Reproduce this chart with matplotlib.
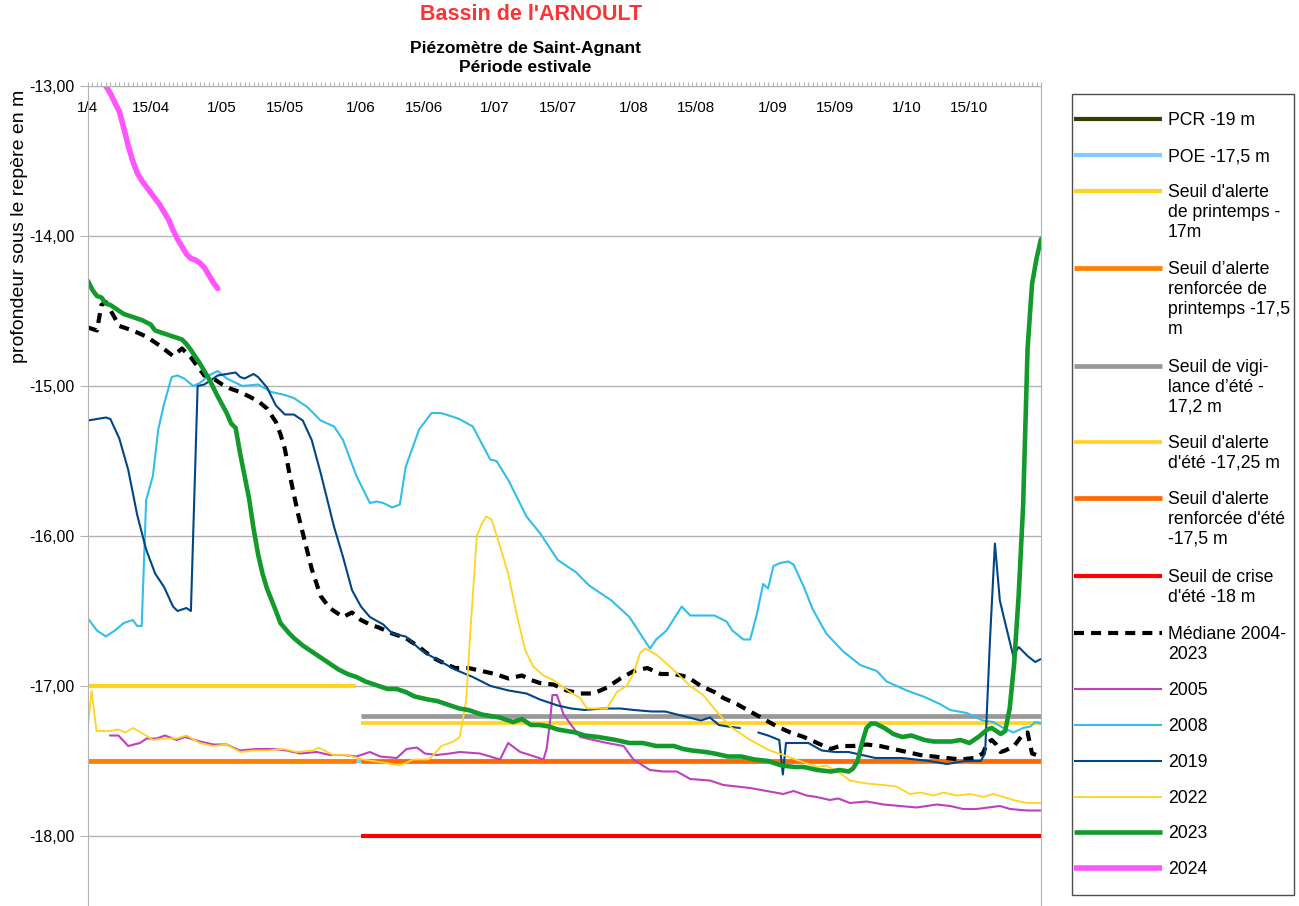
import matplotlib
matplotlib.use('agg')
import numpy as np
import matplotlib.pyplot as plt
from matplotlib.ticker import FuncFormatter, MultipleLocator
from matplotlib.patches import Rectangle

plt.rcParams['font.family'] = ['Liberation Sans', 'DejaVu Sans']

# axe des x : jours comptés depuis le 1er avril
tick_days = [0, 14, 30, 44, 61, 75, 91, 105, 122, 136, 153, 167, 183, 197]
tick_labels = ['1/4', '15/04', '1/05', '15/05', '1/06', '15/06', '1/07', '15/07',
               '1/08', '15/08', '1/09', '15/09', '1/10', '15/10']
day_end = 213  # 31/10

# seuils : niveau, jour début, jour fin
seuil_pcr = (-19.0, 0, 213)
seuil_poe = (-17.5, 0, 213)
seuil_alerte_printemps = (-17.0, 0, 60)
seuil_renf_printemps = (-17.5, 0, 60)
seuil_vigilance_ete = (-17.2, 61, 213)
seuil_alerte_ete = (-17.25, 61, 213)
seuil_renf_ete = (-17.5, 61, 213)
seuil_crise_ete = (-18.0, 61, 213)

# médiane 2004-2023
med_days = [0, 2, 3, 4, 7, 10, 13, 16, 19, 21, 23, 26, 28, 30, 32, 34, 36, 38, 40, 42, 43, 44,
            45, 46, 47, 48, 49, 50, 52, 54, 55, 57, 59, 61, 63, 65, 68, 71, 74, 77, 79, 82, 85,
            88, 91, 94, 97, 99, 101, 104, 107, 110, 113, 116, 119, 122, 125, 128, 131, 134,
            137, 140, 142, 145, 148, 151, 154, 157, 160, 163, 166, 168, 171, 174, 177, 180,
            183, 186, 189, 192, 195, 198, 200, 201, 202, 203, 204, 205, 207, 209, 210, 211,
            212, 213]
med_vals = [-14.61, -14.63, -14.46, -14.44, -14.60, -14.63, -14.67, -14.73, -14.80, -14.75,
            -14.81, -14.93, -14.95, -14.99, -15.02, -15.04, -15.07, -15.10, -15.15, -15.24,
            -15.32, -15.42, -15.58, -15.72, -15.86, -15.98, -16.10, -16.22, -16.40, -16.48,
            -16.50, -16.54, -16.51, -16.56, -16.59, -16.61, -16.65, -16.68, -16.74, -16.81,
            -16.84, -16.88, -16.88, -16.90, -16.92, -16.95, -16.93, -16.96, -16.98, -16.99,
            -17.03, -17.05, -17.05, -17.01, -16.95, -16.90, -16.88, -16.92, -16.92, -16.94,
            -17.00, -17.04, -17.08, -17.12, -17.17, -17.22, -17.27, -17.31, -17.34, -17.38,
            -17.42, -17.40, -17.40, -17.39, -17.40, -17.42, -17.44, -17.46, -17.47, -17.48,
            -17.49, -17.48, -17.45, -17.38, -17.36, -17.39, -17.44, -17.43, -17.40, -17.32,
            -17.31, -17.45, -17.46, -17.47]

# 2005
y2005_days = [4.9, 6.8, 9, 11.6, 13.1, 15.3, 17.2, 19.8, 21.7, 25, 28, 31, 33.9, 37.7, 41.4,
              44.4, 47.4, 51.1, 54.1, 57.1, 60, 63, 65.3, 69, 71.2, 73.5, 75.3, 77.9, 80.9,
              83.1, 87.6, 92.1, 93.9, 96.6, 98.8, 101.8, 102.5, 103.3, 103.8, 104.8, 106.3,
              108.5, 110, 113, 116, 119.7, 121.9, 125.6, 128.6, 131.6, 134.6, 139, 142, 145,
              148, 151.7, 155.4, 157.7, 160.6, 162.9, 165.8, 167.7, 170.3, 174, 177.8, 181.5,
              185.2, 189.7, 192.7, 195.6, 198.6, 203.8, 206.1, 209.8, 213]
y2005_vals = [-17.33, -17.33, -17.40, -17.38, -17.35, -17.35, -17.33, -17.36, -17.34, -17.37,
              -17.39, -17.39, -17.43, -17.42, -17.42, -17.43, -17.45, -17.44, -17.46, -17.46,
              -17.47, -17.44, -17.47, -17.48, -17.42, -17.41, -17.45, -17.46, -17.45, -17.44,
              -17.45, -17.49, -17.38, -17.44, -17.46, -17.49, -17.42, -17.23, -17.06, -17.06,
              -17.19, -17.28, -17.34, -17.36, -17.38, -17.40, -17.49, -17.56, -17.57, -17.57,
              -17.62, -17.63, -17.66, -17.67, -17.68, -17.70, -17.72, -17.70, -17.73, -17.74,
              -17.76, -17.75, -17.78, -17.77, -17.79, -17.80, -17.81, -17.79, -17.80, -17.82,
              -17.82, -17.80, -17.82, -17.83, -17.83]

# 2008
y2008_days = [0, 2, 4, 6, 8, 10, 11, 12, 13, 14.5, 15.7, 17, 18.7, 20, 21.5, 23.5, 25, 27, 29,
              31, 34.5, 38, 41, 44, 46, 49, 52, 55, 57, 60, 63, 64.5, 66, 68, 69.7, 71, 74,
              76.8, 78.7, 80, 83, 86, 89.9, 91.3, 94, 98, 101, 105, 109, 112, 117, 121, 123.4,
              125.6, 127, 129.3, 132.7, 134.6, 137, 140, 142.7, 144, 146.5, 148, 149.5, 150.9,
              152, 153.2, 154.7, 156.5, 157.7, 160, 162, 165, 168.8, 172.6, 176.3, 178.5, 183,
              186.7, 190.4, 192.7, 196.4, 200, 202.3, 204.6, 206.8, 209, 210.6, 211.7, 213]
y2008_vals = [-16.55, -16.63, -16.67, -16.63, -16.58, -16.56, -16.60, -16.60, -15.76, -15.60,
              -15.29, -15.12, -14.94, -14.93, -14.95, -15.00, -14.98, -14.93, -14.90, -14.95,
              -15.00, -14.99, -15.04, -15.06, -15.08, -15.14, -15.23, -15.27, -15.36, -15.60,
              -15.78, -15.77, -15.78, -15.81, -15.79, -15.54, -15.29, -15.18, -15.18, -15.19,
              -15.22, -15.27, -15.49, -15.50, -15.63, -15.87, -15.98, -16.16, -16.24, -16.33,
              -16.43, -16.54, -16.65, -16.75, -16.69, -16.63, -16.47, -16.53, -16.53, -16.53,
              -16.57, -16.63, -16.69, -16.69, -16.52, -16.32, -16.35, -16.20, -16.18, -16.17,
              -16.19, -16.34, -16.49, -16.65, -16.77, -16.86, -16.90, -16.97, -17.03, -17.07,
              -17.12, -17.16, -17.18, -17.23, -17.24, -17.28, -17.31, -17.28, -17.27, -17.24,
              -17.25]

# 2019 (lacune de mesures fin août)
y2019_days = [0, 2, 4, 5, 7, 9, 11, 13, 15, 17, 19, 20, 21, 22, 23, 24.5, 26, 27, 29, 31, 33,
              34, 35, 37, 38, 40, 42, 44, 46, 48, 50, 52, 53, 55, 57, 59, 61, 63, 66, 68, 71,
              74, 76, 79, 82, 86, 90, 94, 98, 101, 105, 108, 111, 115, 119, 122, 126, 129, 133,
              137, 139, 141, 143, 145.7, 147.5, 149.8, 152, 154.5, 155.3, 156, 158, 161, 164,
              167, 170, 173, 176, 179, 182, 185, 188, 192, 196, 199.5, 200.5, 201.6, 202.7,
              203.8, 205, 206.8, 208, 210, 211.7, 213]
y2019_vals = [-15.23, -15.22, -15.21, -15.22, -15.35, -15.56, -15.86, -16.09, -16.25, -16.34,
              -16.47, -16.50, -16.49, -16.48, -16.50, -15.00, -14.99, -14.97, -14.93, -14.92,
              -14.91, -14.94, -14.95, -14.92, -14.94, -15.01, -15.13, -15.19, -15.19, -15.23,
              -15.36, -15.58, -15.70, -15.94, -16.14, -16.36, -16.47, -16.54, -16.59, -16.65,
              -16.67, -16.75, -16.79, -16.84, -16.89, -16.94, -17.00, -17.03, -17.05, -17.09,
              -17.13, -17.15, -17.16, -17.15, -17.15, -17.16, -17.17, -17.17, -17.20, -17.23,
              -17.21, -17.26, -17.27, -17.28, np.nan, -17.31, -17.33, -17.36, -17.59, -17.38,
              -17.38, -17.38, -17.43, -17.44, -17.44, -17.46, -17.48, -17.48, -17.48, -17.49,
              -17.50, -17.52, -17.50, -17.50, -17.45, -16.69, -16.05, -16.43, -16.58, -16.80,
              -16.74, -16.80, -16.84, -16.82]

# 2022
y2022_days = [0, 0.8, 1.9, 4.9, 6.8, 8.3, 10.1, 12.4, 14.6, 16.8, 19.8, 22, 25, 28, 31, 34, 37,
              40, 43.7, 46.6, 50.4, 51.5, 54.8, 57.8, 61.5, 66, 69.7, 72.7, 76.1, 77.2, 79,
              81.7, 83.1, 84.5, 85.5, 86.9, 88, 89, 90.2, 92.1, 93.9, 95.8, 97.7, 99.5, 101.8,
              104, 107.7, 110, 111.5, 116, 118.2, 120.4, 121.9, 123.4, 124.5, 127, 130.8,
              134.6, 137.5, 140.5, 143.5, 148, 152.4, 155.4, 159.1, 163, 165, 168, 170.3, 174,
              177.8, 180.7, 183.7, 186, 189, 191.2, 194.2, 197.2, 200.1, 202.3, 204.6, 206.8,
              209.8, 213]
y2022_vals = [-17.27, -17.03, -17.30, -17.30, -17.29, -17.31, -17.28, -17.32, -17.36, -17.35,
              -17.35, -17.33, -17.38, -17.40, -17.39, -17.44, -17.43, -17.43, -17.42, -17.44,
              -17.43, -17.41, -17.46, -17.46, -17.49, -17.51, -17.53, -17.49, -17.49, -17.46,
              -17.40, -17.37, -17.34, -17.10, -16.62, -16.00, -15.92, -15.87, -15.89, -16.07,
              -16.25, -16.52, -16.76, -16.87, -16.93, -16.96, -17.04, -17.08, -17.15, -17.15,
              -17.04, -17.00, -16.92, -16.78, -16.75, -16.79, -16.89, -17.00, -17.06, -17.17,
              -17.27, -17.36, -17.43, -17.46, -17.50, -17.54, -17.53, -17.58, -17.63, -17.65,
              -17.66, -17.67, -17.72, -17.71, -17.73, -17.71, -17.73, -17.72, -17.74, -17.72,
              -17.74, -17.76, -17.78, -17.78]

# 2023
y2023_days = [0, 1, 2, 3, 4, 5, 7, 8, 10, 12, 14, 15, 18, 20, 21, 22, 23, 25, 27, 29, 31, 32,
              33, 34, 35, 36, 37, 38, 39, 40, 42, 43, 45, 46, 48, 50, 52, 54, 56, 58, 60, 62,
              65, 67, 69, 71, 73, 76, 78, 80, 83, 85, 88, 90, 92, 95, 97, 99, 101, 103, 105,
              107, 109, 111, 114, 116, 118, 121, 124, 127, 129, 131, 133, 135, 138, 140, 143,
              146, 149, 152, 155, 158, 160, 163, 166, 168, 170, 171, 172, 173, 174, 175, 176,
              178, 180, 182, 184, 187, 189, 191, 193, 195, 197, 199, 201, 202, 204, 205, 206,
              207, 208, 209, 210, 211, 212, 213]
y2023_vals = [-14.30, -14.36, -14.40, -14.41, -14.45, -14.46, -14.50, -14.52, -14.54, -14.56,
              -14.59, -14.63, -14.66, -14.68, -14.69, -14.72, -14.76, -14.85, -14.95, -15.07,
              -15.18, -15.25, -15.28, -15.45, -15.60, -15.75, -15.95, -16.12, -16.25, -16.35,
              -16.50, -16.58, -16.65, -16.68, -16.73, -16.77, -16.81, -16.85, -16.89, -16.92,
              -16.94, -16.97, -17.00, -17.02, -17.02, -17.04, -17.07, -17.09, -17.10, -17.12,
              -17.15, -17.16, -17.19, -17.20, -17.21, -17.24, -17.22, -17.26, -17.26, -17.27,
              -17.29, -17.30, -17.31, -17.33, -17.34, -17.35, -17.36, -17.38, -17.38, -17.40,
              -17.40, -17.40, -17.42, -17.43, -17.44, -17.45, -17.47, -17.47, -17.49, -17.50,
              -17.53, -17.54, -17.54, -17.56, -17.57, -17.56, -17.57, -17.55, -17.50, -17.38,
              -17.28, -17.25, -17.25, -17.28, -17.32, -17.34, -17.33, -17.36, -17.37, -17.37,
              -17.37, -17.36, -17.38, -17.34, -17.29, -17.28, -17.32, -17.30, -17.15, -16.85,
              -16.40, -15.80, -14.75, -14.32, -14.15, -14.02]

# 2024
y2024_days = [4, 5, 6, 7, 8, 9, 10, 11, 12, 13, 14, 15, 16, 17, 18, 19, 20, 21, 22, 23, 24,
              25, 26, 27, 28, 29]
y2024_vals = [-13.00, -13.05, -13.11, -13.17, -13.28, -13.40, -13.50, -13.58, -13.63, -13.67,
              -13.71, -13.75, -13.79, -13.84, -13.89, -13.96, -14.02, -14.07, -14.12, -14.15,
              -14.16, -14.18, -14.21, -14.26, -14.31, -14.35]

# styles
seuils = [
    (seuil_pcr, dict(color='#314004', lw=3.0), 'PCR -19 m'),
    (seuil_poe, dict(color='#83caff', lw=3.0), 'POE -17,5 m'),
    (seuil_alerte_printemps, dict(color='#ffd320', lw=3.0), "Seuil d'alerte\nde printemps -\n17m"),
    (seuil_renf_printemps, dict(color='#ff8000', lw=3.4), "Seuil d\u2019alerte\nrenforcée de\nprintemps -17,5\nm"),
    (seuil_vigilance_ete, dict(color='#999999', lw=3.4), "Seuil de vigi-\nlance d\u2019été -\n17,2 m"),
    (seuil_alerte_ete, dict(color='#ffd320', lw=2.6), "Seuil d'alerte\nd'été -17,25 m"),
    (seuil_renf_ete, dict(color='#ff6a00', lw=3.4), "Seuil d'alerte\nrenforcée d'été\n-17,5 m"),
    (seuil_crise_ete, dict(color='#ff0000', lw=3.0), "Seuil de crise\nd'été -18 m"),
]
series = [
    (med_days, med_vals, dict(color='black', lw=3.0, ls=(0, (2.4, 1.7))), 'Médiane 2004-\n2023'),
    (y2005_days, y2005_vals, dict(color='#bf40bf', lw=1.5), '2005'),
    (y2008_days, y2008_vals, dict(color='#31bfea', lw=1.5), '2008'),
    (y2019_days, y2019_vals, dict(color='#004586', lw=1.5), '2019'),
    (y2022_days, y2022_vals, dict(color='#ffd320', lw=1.3), '2022'),
    (y2023_days, y2023_vals, dict(color='#129b2c', lw=3.3), '2023'),
    (y2024_days, y2024_vals, dict(color='#ff55ff', lw=4.0), '2024'),
]

W, H = 1299, 906
fig = plt.figure(figsize=(W / 100, H / 100), dpi=100)
ax = fig.add_axes([88 / W, 0, 953 / W, 820 / H])

for (lev, d0, d1), st, lab in seuils:
    ax.plot([d0, d1], [lev, lev], solid_capstyle='butt', **st)
for d, v, st, lab in series:
    ax.plot(d, v, solid_capstyle='round', **st)

ax.set_xlim(0, day_end)
ax.set_ylim(-13 - 820 / 150, -13)
ax.set_yticks([-13, -14, -15, -16, -17, -18])
ax.yaxis.set_major_formatter(FuncFormatter(lambda v, p: f'{v:.2f}'.replace('.', ',')))
ax.grid(axis='y', color='#b3b3b3', lw=1)
ax.set_axisbelow(True)

ax.xaxis.tick_top()
ax.set_xticks(tick_days, tick_labels)
ax.xaxis.set_minor_locator(MultipleLocator(1))
ax.tick_params(axis='x', which='both', top=True, bottom=False, direction='out',
               length=3, width=0.8, color='#b3b3b3', labeltop=True, labelbottom=False,
               pad=-24, labelsize=11)
ax.tick_params(axis='y', length=5.5, color='#b3b3b3', labelsize=11.5, pad=4)
for s in ['left', 'top', 'right']:
    ax.spines[s].set_color('#b3b3b3')
ax.spines['bottom'].set_visible(False)

fig.text(531 / W, 1 - 15 / H, "Bassin de l'ARNOULT", color='#ff3333', fontsize=15.5,
         fontweight='bold', ha='center', va='center')
fig.text(525 / W, 1 - 48 / H, 'Piézomètre de Saint-Agnant', fontsize=12.5,
         fontweight='bold', ha='center', va='center')
fig.text(525 / W, 1 - 68 / H, 'Période estivale', fontsize=12.5,
         fontweight='bold', ha='center', va='center')
fig.text(20 / W, 1 - 226 / H, 'profondeur sous le repère en m', fontsize=14,
         rotation=90, ha='center', va='center')

# légende dessinée à droite (coordonnées en pixels)
lax = fig.add_axes([0, 0, 1, 1], facecolor='none')
lax.set_xlim(0, W)
lax.set_ylim(H, 0)
lax.axis('off')
lax.add_patch(Rectangle((1072, 94), 222, 801, fill=False, ec='#4d4d4d', lw=1))
entry_y = [119, 155, 191, 268, 366, 442, 498, 576, 633, 689, 725, 761, 797, 832, 868]
entries = [(st, lab) for _, st, lab in seuils] + [(st, lab) for _, _, st, lab in series]
for y, (st, lab) in zip(entry_y, entries):
    lax.plot([1074, 1162], [y, y], solid_capstyle='butt', **st)
    lax.text(1168, y - 7, lab, fontsize=12.7, va='top', ha='left', linespacing=1.22)

fig.savefig('out.png', dpi=100)
